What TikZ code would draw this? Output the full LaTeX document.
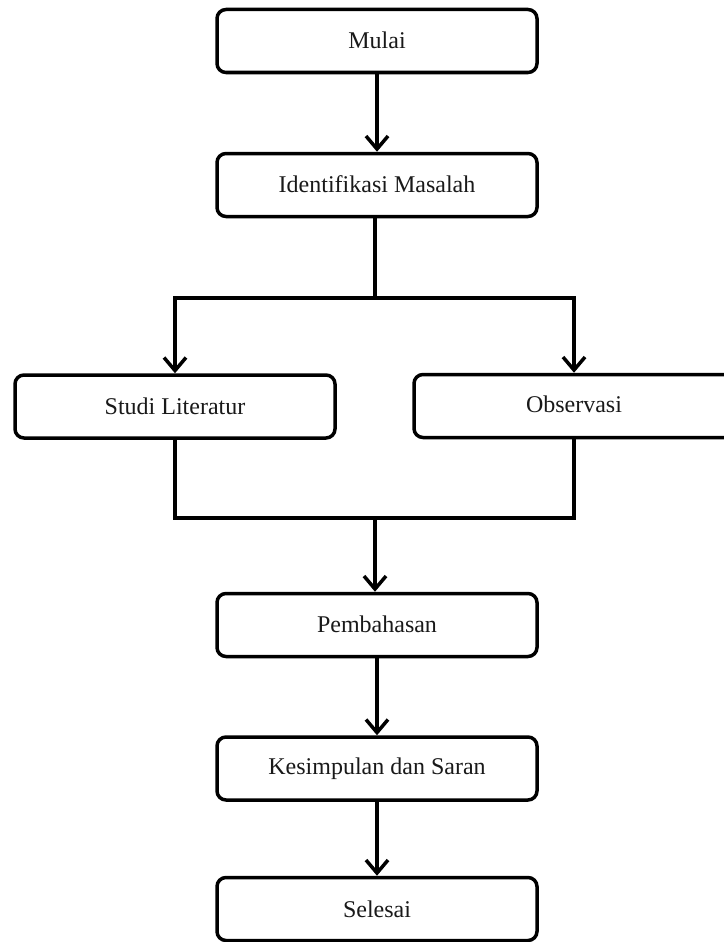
\documentclass[tikz,border=0pt]{standalone}
\usepackage{fontspec}
\setmainfont{Liberation Serif}
\usetikzlibrary{arrows.meta}
\begin{document}
\begin{tikzpicture}[x=1pt,y=-1pt,
  box/.style={draw=black, line width=3.5pt, rounded corners=9pt, fill=white,
    minimum width=320pt, minimum height=63pt, inner sep=0pt,
    font=\fontsize{24}{28}\selectfont, text=black!90},
  conn/.style={draw=black, line width=3.5pt},
  arr/.style={conn, -{Straight Barb[length=13pt,width=22pt]}}]
\useasboundingbox (0,0) rectangle (723,942);
\fill[white] (0,0) rectangle (723,942);
\node[box] (mulai) at (377,41) {\raisebox{2pt}{Mulai}};
\node[box] (ident) at (377,185) {\raisebox{1pt}{Identifikasi Masalah}};
\node[box] (studi) at (175,406.5) {Studi Literatur};
\node[box] (obs)   at (574,406) {\raisebox{3pt}{Observasi}};
\node[box] (pemb)  at (377,625) {\raisebox{2pt}{Pembahasan}};
\node[box] (kes)   at (377,768.5) {Kesimpulan dan Saran};
\node[box] (sel)   at (377,909) {Selesai};
\coordinate (split) at (375,298);
\coordinate (join) at (375,518);
\draw[arr] (mulai.south) -- (ident.north);
\draw[conn] (ident.south -| split) -- (split);
\draw[arr] (split) -| (studi.north);
\draw[arr] (split) -| (obs.north);
\draw[conn] (studi.south) |- (join) -| (obs.south);
\draw[arr] (join) -- (join |- pemb.north);
\draw[arr] (pemb.south) -- (kes.north);
\draw[arr] (kes.south) -- (sel.north);
\end{tikzpicture}
\end{document}
